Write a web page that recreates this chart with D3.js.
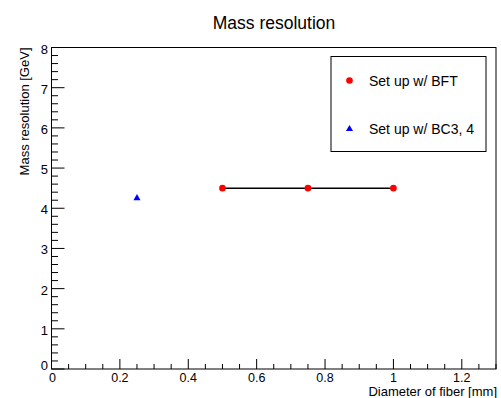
<!DOCTYPE html>
<html><head><meta charset="utf-8">
<script src="https://cdn.jsdelivr.net/npm/d3@7"></script>
<style>body{margin:0;background:#fff}svg{display:block}text{font-family:"Liberation Sans",Arial,sans-serif}</style>
</head><body>
<svg id="c" width="501" height="398"></svg>
<script>
const bftX = [0.5, 0.75, 1.0];
const bftY = [4.5, 4.5, 4.5];
const bcX = [0.25];
const bcY = [4.25];
const xTicks = [0, 0.2, 0.4, 0.6, 0.8, 1, 1.2];
const yTicks = [0, 1, 2, 3, 4, 5, 6, 7, 8];
const legendLabels = ["Set up w/ BFT", "Set up w/ BC3, 4"];

const svg = d3.select("#c");
const L = 51.5, R = 496, T = 47.5, B = 369;
const x = d3.scaleLinear().domain([0, 1.3]).range([L, R]);
const y = d3.scaleLinear().domain([0, 8]).range([B, T]);

svg.append("text").attr("x", 274).attr("y", 29).attr("text-anchor", "middle")
  .attr("font-size", 17.5).text("Mass resolution");

// frame
svg.append("rect").attr("x", L).attr("y", T).attr("width", R - L).attr("height", B - T)
  .attr("fill", "none").attr("stroke", "#000").attr("stroke-width", 1);

const g = svg.append("g");
const xMinor = d3.range(0, 1.3001, 0.05);
xMinor.forEach(v => {
  const major = Math.abs(v / 0.2 - Math.round(v / 0.2)) < 1e-6;
  g.append("line").attr("x1", x(v)).attr("x2", x(v)).attr("y1", B).attr("y2", B - (major ? 10 : 5))
    .attr("stroke", "#000").attr("stroke-width", 1);
});
xTicks.forEach(v => {
  g.append("text").attr("x", x(v) + (v === 0 ? 1 : 0)).attr("y", 381.5).attr("text-anchor", "middle")
    .attr("font-size", 12.5).text(d3.format("~g")(v));
});
const yMinor = d3.range(0, 8.0001, 0.2);
yMinor.forEach(v => {
  const major = Math.abs(v - Math.round(v)) < 1e-6;
  g.append("line").attr("x1", L).attr("x2", L + (major ? 13 : 6.5)).attr("y1", y(v)).attr("y2", y(v))
    .attr("stroke", "#000").attr("stroke-width", 1);
});
yTicks.forEach(v => {
  g.append("text").attr("x", 48).attr("y", y(v) + (v === 0 ? 1 : 6)).attr("text-anchor", "end")
    .attr("font-size", 13).text(v);
});

svg.append("text").attr("x", 497).attr("y", 396).attr("text-anchor", "end")
  .attr("font-size", 13).text("Diameter of fiber [mm]");
svg.append("text").attr("transform", `translate(29,${T}) rotate(-90)`).attr("text-anchor", "end")
  .attr("font-size", 13).text("Mass resolution [GeV]");

// data
const line = d3.line().x(d => x(d[0])).y(d => y(d[1]));
const bft = bftX.map((v, i) => [v, bftY[i]]);
svg.append("path").attr("d", line(bft)).attr("fill", "none").attr("stroke", "#000").attr("stroke-width", 1.5);
svg.selectAll(".bft").data(bft).enter().append("circle")
  .attr("cx", d => x(d[0])).attr("cy", d => y(d[1])).attr("r", 3.3).attr("fill", "#ff0000");
const tri = d3.symbol().type(d3.symbolTriangle).size(22);
bcX.forEach((v, i) => {
  svg.append("path").attr("d", tri()).attr("transform", `translate(${x(v)},${y(bcY[i])})`).attr("fill", "#0000ff");
});

// legend
svg.append("rect").attr("x", 331).attr("y", 56.5).attr("width", 155).attr("height", 95)
  .attr("fill", "#fff").attr("stroke", "#000").attr("stroke-width", 1);
svg.append("circle").attr("cx", 349.5).attr("cy", 80.5).attr("r", 3.3).attr("fill", "#ff0000");
svg.append("path").attr("d", tri()).attr("transform", "translate(349.5,129)").attr("fill", "#0000ff");
svg.append("text").attr("x", 369).attr("y", 86).attr("font-size", 14).text(legendLabels[0]);
svg.append("text").attr("x", 369).attr("y", 134).attr("font-size", 14).text(legendLabels[1]);
</script>
</body></html>
